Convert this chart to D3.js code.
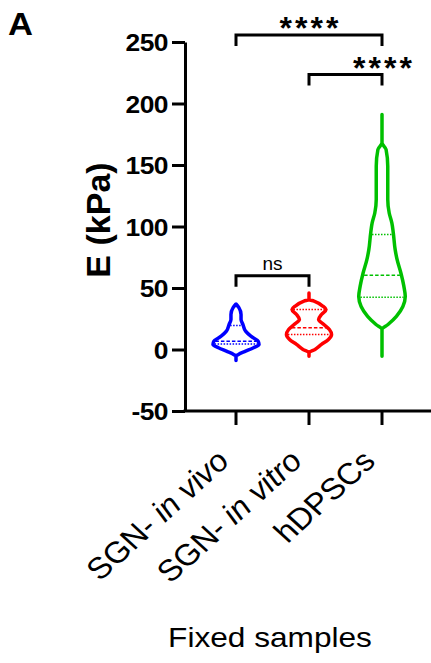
<!DOCTYPE html>
<html><head><meta charset="utf-8">
<script src="https://cdn.jsdelivr.net/npm/d3@7"></script>
<style>html,body{margin:0;padding:0;background:#fff;}svg{display:block;}</style>
</head><body>
<script>
// ---- data ----
const categories = ["SGN- in vivo", "SGN- in vitro", "hDPSCs"];
const colors = ["#0000ff", "#ff0000", "#00c000"];
const yTicks = [-50, 0, 50, 100, 150, 200, 250];
// violin profiles: [value (kPa), relative density 0-100]
const profileVivo = [[37,0],[34,12],[28.5,21],[24.4,21],[20.3,29],[14.9,40],[10.8,62],[6.8,92],[4.1,96],[1.4,73],[-1.4,40],[-4,10],[-5.4,0],[-9,0]];
const profileVitro = [[46,0],[40.6,0],[39.3,21],[35.2,58],[32.5,71],[28.5,52],[24.4,40],[20.3,62],[16.3,85],[12.2,94],[8.1,81],[4.1,52],[0,25],[-2.7,0],[-5.4,0]];
const profileHD = [[191,0],[168,0],[162.6,17],[149,24],[122,24],[111,30],[103,41],[95,47],[81,55],[73,63],[62,79],[51.5,91],[43,97],[35,87],[27,60],[20.3,25],[16.3,0],[-5.4,0]];
const medians = [6.8, 17.6, 60.4];
const q1s = [4.5, 12.2, 42.5];
const q3s = [19.5, 32.5, 93.5];
const comparisons = [["SGN- in vivo","hDPSCs","****"],["SGN- in vitro","hDPSCs","****"],["SGN- in vivo","SGN- in vitro","ns"]];
const bracketLevels = [250, 228, 60]; // kPa level of each bracket bar

const W = 431, H = 663;
const svg = d3.select("body").append("svg").attr("width", W).attr("height", H);

const y = d3.scaleLinear().domain([-50, 250]).range([411, 42]);
const x = d3.scalePoint().domain(categories).range([163, 455]).padding(1);
const w = d3.scaleLinear().domain([0, 100]).range([0, 24]);
const axisX = 185;

// y axis
const gy = svg.append("g").attr("transform", `translate(${axisX},0)`)
  .call(d3.axisLeft(y).tickValues(yTicks).tickFormat(d => String(d)).tickSize(13).tickPadding(5).tickSizeOuter(0));
gy.select(".domain").attr("stroke", "#000").attr("stroke-width", 3);
gy.selectAll(".tick line").attr("stroke", "#000").attr("stroke-width", 3);
gy.selectAll(".tick text").attr("font-family", "Liberation Sans, Arial, sans-serif")
  .attr("font-weight", "bold").attr("font-size", 24).attr("fill", "#000")
  .attr("x", 0).attr("dy", "0.36em")
  .attr("transform", "translate(-17,0) scale(1.1,1)")
  .attr("letter-spacing", -0.5);

// x axis
svg.append("line").attr("x1", axisX - 1.5).attr("x2", W).attr("y1", y(-50)).attr("y2", y(-50))
  .attr("stroke", "#000").attr("stroke-width", 3);
categories.forEach(c => {
  svg.append("line").attr("x1", x(c)).attr("x2", x(c)).attr("y1", y(-50)).attr("y2", y(-50) + 14)
    .attr("stroke", "#000").attr("stroke-width", 3);
});

// x tick labels
const italicParts = [["SGN- ", "in vivo"], ["SGN- ", "in vitro"], ["hDPSCs", ""]];
categories.forEach((c, i) => {
  const t = svg.append("text")
    .attr("transform", `translate(${x(c) - 5},${y(-50) + 52}) scale(1.1,1) rotate(-45)`)
    .attr("text-anchor", "end")
    .attr("font-family", "Liberation Sans, Arial, sans-serif")
    .attr("font-size", 30).attr("fill", "#000");
  t.append("tspan").text(italicParts[i][0]);
  if (italicParts[i][1]) t.append("tspan").attr("font-style", "italic").text(italicParts[i][1]);
});

// axis titles
svg.append("text").attr("transform", "translate(270,647) scale(1.13,1)")
  .attr("text-anchor", "middle").attr("font-family", "Liberation Sans, Arial, sans-serif")
  .attr("font-size", 28).attr("fill", "#000").text("Fixed samples");
svg.append("text").attr("transform", "translate(110,220) rotate(-90)")
  .attr("text-anchor", "middle").attr("font-family", "Liberation Sans, Arial, sans-serif")
  .attr("font-weight", "bold").attr("font-size", 34).attr("fill", "#000").text("E (kPa)");
svg.append("text").attr("transform", "translate(8,35) scale(1.08,1)")
  .attr("font-family", "Liberation Sans, Arial, sans-serif")
  .attr("font-weight", "bold").attr("font-size", 32).attr("fill", "#000").text("A");

// violins
const profiles = [profileVivo, profileVitro, profileHD];
function widthAt(prof, v) {
  const s = prof.slice().sort((a, b) => a[0] - b[0]);
  for (let k = 0; k < s.length - 1; k++) {
    if (v >= s[k][0] && v <= s[k + 1][0]) {
      const t = (v - s[k][0]) / (s[k + 1][0] - s[k][0]);
      return s[k][1] + t * (s[k + 1][1] - s[k][1]);
    }
  }
  return 0;
}
profiles.forEach((prof, i) => {
  const cx = x(categories[i]);
  const s = prof.slice().sort((a, b) => a[0] - b[0]);
  const area = d3.area().curve(d3.curveMonotoneY)
    .y(d => y(d[0])).x0(d => cx - w(d[1])).x1(d => cx + w(d[1]));
  svg.append("path").attr("d", area(s)).attr("fill", "none")
    .attr("stroke", colors[i]).attr("stroke-width", 3.5).attr("stroke-linejoin", "round");
  // quartile lines
  [[q1s[i], "1.5,1.5"], [medians[i], "3.5,2"], [q3s[i], "1.5,1.5"]].forEach(([v, dash]) => {
    const hw = w(widthAt(prof, v)) - 1.5;
    svg.append("line").attr("x1", cx - hw).attr("x2", cx + hw).attr("y1", y(v)).attr("y2", y(v))
      .attr("stroke", colors[i]).attr("stroke-width", 1.5).attr("stroke-dasharray", dash);
  });
});

// significance brackets
comparisons.forEach(([a, b, lab], i) => {
  const yb = y(bracketLevels[i]) + (i === 0 ? -7 : (i === 1 ? 5.5 : 0));
  const x1 = x(a), x2 = x(b);
  svg.append("path").attr("d", `M${x1},${yb + 11}V${yb}H${x2}V${yb + 11}`)
    .attr("fill", "none").attr("stroke", "#000").attr("stroke-width", 3).attr("stroke-linejoin", "miter");
  const t = svg.append("text").attr("text-anchor", "middle")
    .attr("font-family", "Liberation Sans, Arial, sans-serif").attr("fill", "#000");
  if (lab === "ns") {
    t.attr("x", (x1 + x2) / 2).attr("y", yb - 6).attr("font-size", 19).text(lab);
  } else {
    t.attr("x", (x1 + x2) / 2 + (i === 0 ? 0 : 37) + 1.5).attr("y", yb + 4)
      .attr("font-size", 32).attr("font-weight", "bold").attr("letter-spacing", 3).text(lab);
  }
});
</script>
</body></html>
